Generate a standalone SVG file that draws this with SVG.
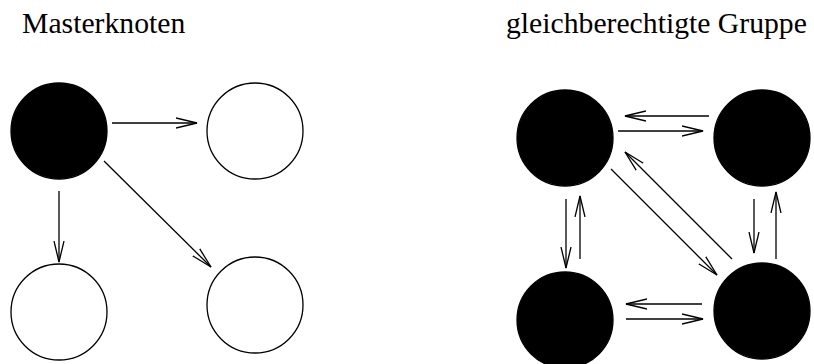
<svg xmlns="http://www.w3.org/2000/svg" width="814" height="364" viewBox="0 0 814 364">
  <style>
    .title { font-family: "Liberation Serif", "Times New Roman", serif; font-size: 29.7px; fill: #000; }
    .full { fill: #000; stroke: #000; stroke-width: 1.3; }
    .empty { fill: #fff; stroke: #000; stroke-width: 1.3; }
    .edge { fill: none; stroke: #000; stroke-width: 1.3; marker-end: url(#open); }
  </style>
  <defs>
    <marker id="open" markerUnits="userSpaceOnUse" markerWidth="24" markerHeight="12" refX="21" refY="6" orient="auto">
      <path d="M0,1 L21,6 L0,11" fill="none" stroke="#000" stroke-width="1.3"/>
    </marker>
  </defs>
  <rect width="814" height="364" fill="#fff"/>

  <text class="title" x="22" y="33">Masterknoten</text>
  <text class="title" x="506" y="33">gleichberechtigte Gruppe</text>

  <!-- master / slave star -->
  <g id="master"><circle class="full" cx="59" cy="131" r="48"/></g>
  <g id="slave-a"><circle class="empty" cx="255" cy="131" r="48"/></g>
  <g id="slave-b"><circle class="empty" cx="59" cy="312" r="48"/></g>
  <g id="slave-c"><circle class="empty" cx="255" cy="305" r="48"/></g>

  <!-- peer group -->
  <g id="peer-1"><circle class="full" cx="565" cy="138" r="48"/></g>
  <g id="peer-2"><circle class="full" cx="762" cy="138" r="48"/></g>
  <g id="peer-3"><circle class="full" cx="565" cy="320" r="48"/></g>
  <g id="peer-4"><circle class="full" cx="762" cy="311" r="48"/></g>

  <g id="connectors">
    <line class="edge" x1="112" y1="123" x2="197" y2="123"/>
    <line class="edge" x1="59" y1="191" x2="59" y2="262"/>
    <line class="edge" x1="104" y1="161" x2="211" y2="267"/>

    <line class="edge" x1="709" y1="116" x2="625" y2="116"/>
    <line class="edge" x1="618" y1="131" x2="703" y2="131"/>
    <line class="edge" x1="702" y1="304" x2="626" y2="304"/>
    <line class="edge" x1="626" y1="319" x2="703" y2="319"/>
    <line class="edge" x1="566" y1="199" x2="566" y2="268"/>
    <line class="edge" x1="580" y1="259" x2="580" y2="196"/>
    <line class="edge" x1="754" y1="199" x2="754" y2="253"/>
    <line class="edge" x1="776" y1="259" x2="776" y2="192"/>
    <line class="edge" x1="611" y1="169" x2="717" y2="275"/>
    <line class="edge" x1="732" y1="259" x2="625" y2="152"/>
  </g>
</svg>
